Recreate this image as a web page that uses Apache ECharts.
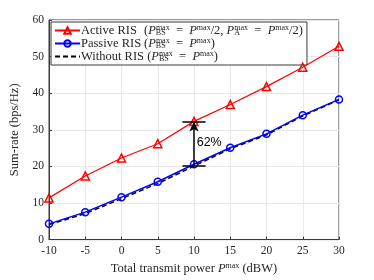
<!DOCTYPE html>
<html><head><meta charset="utf-8">
<script src="https://cdn.jsdelivr.net/npm/echarts@6/dist/echarts.min.js"></script>
<style>html,body{margin:0;padding:0;background:#fff}#c{width:374px;height:280px}</style>
</head><body><div id="c"></div>
<script>
const powers = [-10, -5, 0, 5, 10, 15, 20, 25, 30];
const activeRIS = [11.4, 17.4, 22.3, 26.2, 32.3, 36.9, 41.8, 47.1, 52.8];
const passiveRIS = [4.3, 7.5, 11.6, 15.8, 20.6, 25.1, 28.9, 34.0, 38.3];
const withoutRIS = [4.1, 7.1, 11.2, 15.3, 20.1, 24.8, 28.6, 33.8, 38.2];
const xTicks = [-10, -5, 0, 5, 10, 15, 20, 25, 30];
const gainLabel = '62%';
const gainX = 10, gainLow = 20.1, gainHigh = 32.3;

const SERIF = '"Liberation Serif","DejaVu Serif",serif';
const pair = a => powers.map((p, i) => [p, a[i]]);
const LH = 13;
const rich = {
  n: {fontFamily: SERIF, fontSize: 12.5, color: '#262626', width: 63, lineHeight: LH},
  t: {fontFamily: SERIF, fontSize: 12.5, color: '#262626', lineHeight: LH},
  it: {fontFamily: SERIF, fontSize: 12.5, fontStyle: 'italic', color: '#262626', lineHeight: LH},
  sup: {fontFamily: SERIF, fontSize: 8, color: '#262626', verticalAlign: 'top', lineHeight: LH},
  sub: {fontFamily: SERIF, fontSize: 8, color: '#262626', verticalAlign: 'bottom', lineHeight: LH, width: 0.1}
};
const PBS = '{it|P}{sub|BS}{sup|max}';
const PA = '{it|P}{sub|A}{sup|max}';
const Pm = '{it|P}{sup|max}';
const legendText = {
  'Active RIS': '{n|Active RIS}{t|(}' + PBS + '{t|  =  }' + Pm + '{t|/2, }' + PA + '{t|  =  }' + Pm + '{t|/2)}',
  'Passive RIS': '{n|Passive RIS}{t|(}' + PBS + '{t|  =  }' + Pm + '{t|)}',
  'Without RIS': '{t|Without RIS (}' + PBS + '{t|  =  }' + Pm + '{t|)}'
};

const chart = echarts.init(document.getElementById('c'));
chart.setOption({
  animation: false,
  backgroundColor: '#fff',
  grid: {left: 49, right: 35, top: 20, bottom: 32, show: true, borderColor: '#3a3a3a', borderWidth: 1},
  legend: {
    orient: 'vertical', left: 51, top: 22, itemWidth: 25, itemHeight: 8, itemGap: 0,
    backgroundColor: '#fff', borderColor: '#3a3a3a', borderWidth: 1, padding: [2, 4, 2, 3],
    data: ['Active RIS', 'Passive RIS', {name: 'Without RIS', itemStyle: {opacity: 0}}],
    formatter: name => legendText[name],
    textStyle: {rich: rich, padding: [0, 0, 0, -4]}
  },
  xAxis: {
    type: 'value', min: -10, max: 30, interval: 5,
    name: '{t|Total transmit power }{it|P}{sup|max}{t| (dBW)}',
    nameLocation: 'middle', nameGap: 15,
    nameTextStyle: {rich: {
      t: {fontFamily: SERIF, fontSize: 12.5, color: '#262626', lineHeight: 14},
      it: {fontFamily: SERIF, fontSize: 12.5, fontStyle: 'italic', color: '#262626', lineHeight: 14},
      sup: {fontFamily: SERIF, fontSize: 8, color: '#262626', verticalAlign: 'top', lineHeight: 14}
    }},
    axisLine: {onZero: false, lineStyle: {color: '#3a3a3a'}},
    axisTick: {inside: true, length: 3, lineStyle: {color: '#3a3a3a'}},
    axisLabel: {fontFamily: SERIF, fontSize: 11.5, color: '#262626', margin: 5, formatter: v => String(v)},
    splitLine: {lineStyle: {color: '#e8e8e8'}}
  },
  yAxis: {
    type: 'value', min: 0, max: 60, interval: 10,
    name: 'Sum-rate (bps/Hz)', nameLocation: 'middle', nameGap: 17,
    nameTextStyle: {fontFamily: SERIF, fontSize: 12.5, color: '#262626'},
    axisLine: {show: true, onZero: false, lineStyle: {color: '#3a3a3a'}},
    axisTick: {show: true, inside: true, length: 3, lineStyle: {color: '#3a3a3a'}},
    axisLabel: {fontFamily: SERIF, fontSize: 11.5, color: '#262626', margin: 5},
    splitLine: {lineStyle: {color: '#e8e8e8'}}
  },
  series: [
    {
      name: 'Without RIS', type: 'line', data: pair(withoutRIS), symbol: 'none', z: 3,
      lineStyle: {color: '#000', width: 1.5, type: [5, 3]}, itemStyle: {color: '#000'}
    },
    {
      name: 'Passive RIS', type: 'line', data: pair(passiveRIS), symbol: 'circle', symbolSize: 7, z: 4,
      lineStyle: {color: '#0000ff', width: 1.5},
      itemStyle: {color: 'rgba(255,255,255,0)', borderColor: '#0000ff', borderWidth: 1.5}
    },
    {
      name: 'Active RIS', type: 'line', data: pair(activeRIS), symbol: 'triangle', symbolSize: 8, z: 4,
      lineStyle: {color: '#ff0000', width: 1.2},
      itemStyle: {color: 'rgba(255,255,255,0)', borderColor: '#ff0000', borderWidth: 1.5},
      markLine: {
        silent: true, animation: false,
        lineStyle: {color: '#000', width: 1.5, type: 'solid'},
        label: {show: false},
        data: [
          [{coord: [gainX, gainLow], symbol: 'none'}, {coord: [gainX, gainHigh], symbol: 'arrow', symbolSize: [7, 10]}],
          [{coord: [gainX - 1.6, gainHigh], symbol: 'none'}, {coord: [gainX + 1.6, gainHigh], symbol: 'none'}],
          [{coord: [gainX - 1.6, gainLow], symbol: 'none'}, {coord: [gainX + 1.6, gainLow], symbol: 'none'}]
        ]
      },
      markPoint: {
        silent: true, symbol: 'circle', symbolSize: 1, itemStyle: {color: 'rgba(0,0,0,0)'},
        label: {show: true, position: 'right', distance: 0, formatter: gainLabel,
          fontFamily: 'Liberation Sans, Arial, sans-serif', fontSize: 12.5, color: '#000'},
        data: [{coord: [gainX + 0.3, (gainLow + gainHigh) / 2 + 0.4]}]
      }
    }
  ]
});
</script></body></html>
